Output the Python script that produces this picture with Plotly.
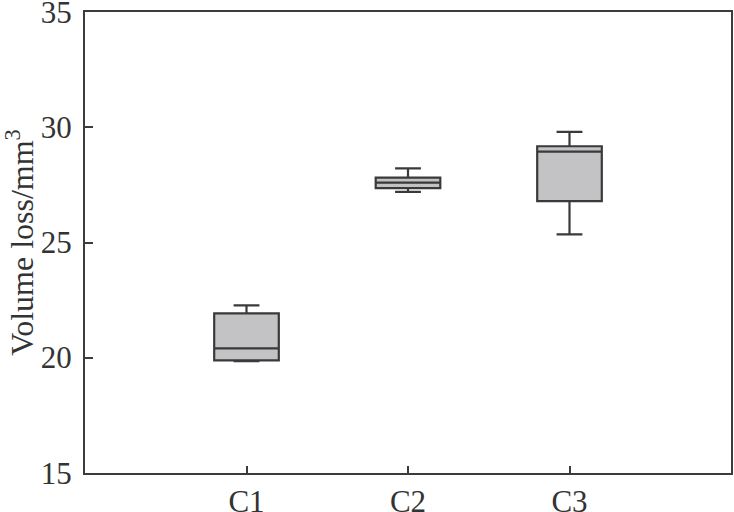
import plotly.graph_objects as go

categories = ["C1", "C2", "C3"]
lower_fence = [19.85, 27.2, 25.35]
q1 = [19.88, 27.36, 26.8]
median = [20.4, 27.6, 28.95]
q3 = [21.92, 27.82, 29.18]
upper_fence = [22.27, 28.22, 29.8]
y_ticks = [15, 20, 25, 30, 35]

fig = go.Figure()
fig.add_trace(go.Box(
    x=categories,
    q1=q1, median=median, q3=q3,
    lowerfence=lower_fence, upperfence=upper_fence,
    fillcolor="#c3c3c6",
    line=dict(color="#3a3a3a", width=2.2),
    width=0.4,
    whiskerwidth=0.4,
    boxpoints=False,
    showlegend=False,
))

font_family = "'Liberation Serif', 'Times New Roman', Times, serif"
fig.update_layout(
    width=734, height=512,
    margin=dict(l=85, r=3, t=12, b=39),
    paper_bgcolor="white",
    plot_bgcolor="white",
    font=dict(family=font_family, size=31, color="#333333"),
    xaxis=dict(
        type="category",
        range=[-1, 3],
        automargin=False,
        showline=True, linecolor="#3c3c3c", linewidth=2, mirror=True,
        ticks="inside", ticklen=7, tickwidth=1.5, tickcolor="#3c3c3c",
        showgrid=False, zeroline=False,
        ticklabeloverflow="allow",
        tickfont=dict(family=font_family, size=31, color="#333333"),
    ),
    yaxis=dict(
        range=[14.99, 35.01],
        tickvals=y_ticks,
        automargin=False,
        showline=True, linecolor="#3c3c3c", linewidth=2, mirror=True,
        ticks="inside", ticklen=8, tickwidth=1.5, tickcolor="#3c3c3c",
        showgrid=False, zeroline=False,
        ticklabeloverflow="allow",
        ticklabelstandoff=5,
        tickfont=dict(family=font_family, size=31, color="#333333"),
        title=dict(text="Volume loss/mm<sup>3</sup>", standoff=4,
                   font=dict(family=font_family, size=32, color="#333333")),
    ),
)

fig.write_html("out.html", config={"displayModeBar": False})
with open("out.html", "r", encoding="utf-8") as f:
    html = f.read()
html = html.replace("<head>", "<head><style>html,body{margin:0;padding:0;overflow:hidden;}</style>", 1)
with open("out.html", "w", encoding="utf-8") as f:
    f.write(html)
